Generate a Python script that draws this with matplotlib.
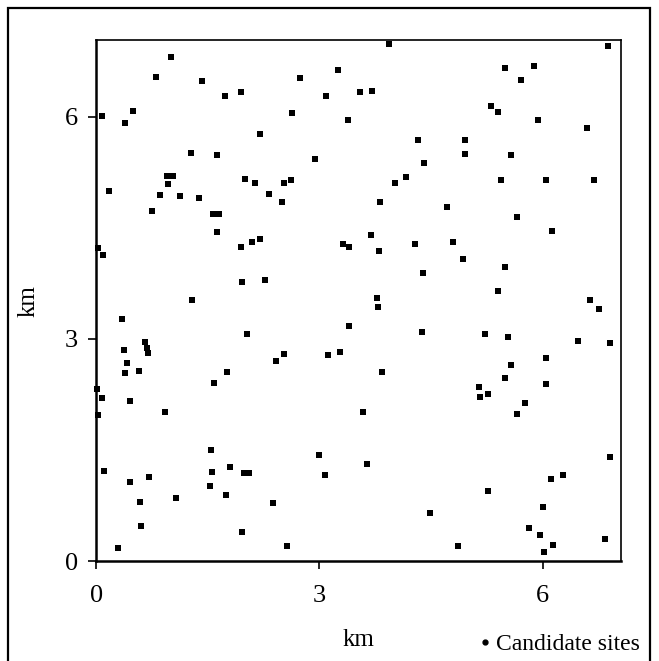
import matplotlib.pyplot as plt
from matplotlib.patches import Rectangle
from matplotlib.lines import Line2D

plt.rcParams['font.family'] = ['Liberation Serif', 'DejaVu Serif']

# candidate site coordinates (km)
site_x = [3.94, 6.88, 1.01, 3.25, 5.50, 5.89, 0.81, 2.74, 5.71, 1.42,
          1.95, 1.73, 3.09, 3.55, 3.71, 5.30, 5.40, 2.63, 0.50, 0.08,
          0.39, 3.38, 5.94, 6.59, 2.20, 4.33, 4.95, 1.28, 1.62, 4.95,
          5.58, 2.94, 4.40, 0.95, 1.03, 0.97, 2.00, 2.14, 2.52, 2.62,
          4.02, 4.17, 5.44, 6.05, 6.69, 0.17, 0.86, 1.12, 1.38, 2.32,
          2.50, 3.82, 0.75, 1.57, 1.65, 4.72, 5.66, 1.63, 6.13, 0.02,
          0.09, 1.95, 2.09, 2.20, 3.32, 3.40, 3.69, 3.80, 4.28, 4.79,
          4.93, 5.50, 4.39, 1.96, 2.27, 5.40, 1.29, 3.78, 3.79, 6.63,
          6.76, 0.34, 3.40, 2.02, 4.38, 5.22, 5.53, 6.47, 6.90, 0.65,
          0.68, 0.70, 0.38, 0.41, 0.39, 0.58, 3.28, 3.12, 2.53, 2.41,
          6.04, 5.57, 1.76, 3.84, 1.58, 5.49, 6.04, 0.01, 5.14, 5.16,
          5.26, 0.08, 0.45, 5.76, 5.66, 0.02, 0.92, 3.58, 1.54, 2.99,
          6.91, 3.64, 0.11, 1.80, 1.55, 1.99, 2.05, 3.07, 0.71, 0.45,
          6.27, 6.11, 1.53, 5.26, 1.74, 1.07, 0.59, 2.37, 6.01, 4.49,
          0.60, 1.96, 5.82, 5.97, 6.84, 0.29, 2.56, 4.86, 6.14, 6.02]
site_y = [6.98, 6.95, 6.80, 6.63, 6.66, 6.68, 6.54, 6.52, 6.50, 6.48,
          6.33, 6.28, 6.28, 6.33, 6.34, 6.14, 6.06, 6.05, 6.07, 6.01,
          5.91, 5.96, 5.96, 5.84, 5.76, 5.69, 5.68, 5.51, 5.48, 5.50,
          5.48, 5.43, 5.38, 5.20, 5.20, 5.09, 5.16, 5.11, 5.10, 5.15,
          5.11, 5.19, 5.15, 5.14, 5.14, 4.99, 4.94, 4.93, 4.90, 4.96,
          4.85, 4.85, 4.73, 4.68, 4.69, 4.78, 4.64, 4.44, 4.45, 4.23,
          4.13, 4.24, 4.31, 4.35, 4.28, 4.24, 4.40, 4.18, 4.28, 4.31,
          4.08, 3.97, 3.89, 3.77, 3.79, 3.64, 3.53, 3.55, 3.43, 3.52,
          3.40, 3.27, 3.18, 3.07, 3.10, 3.06, 3.03, 2.97, 2.95, 2.96,
          2.88, 2.81, 2.85, 2.68, 2.54, 2.57, 2.82, 2.78, 2.80, 2.70,
          2.74, 2.65, 2.55, 2.55, 2.41, 2.47, 2.39, 2.32, 2.35, 2.21,
          2.26, 2.20, 2.16, 2.14, 1.98, 1.97, 2.01, 2.01, 1.50, 1.43,
          1.41, 1.31, 1.22, 1.27, 1.20, 1.19, 1.19, 1.17, 1.13, 1.07,
          1.16, 1.11, 1.01, 0.95, 0.89, 0.85, 0.80, 0.78, 0.73, 0.65,
          0.47, 0.39, 0.45, 0.35, 0.30, 0.18, 0.20, 0.21, 0.22, 0.13]

ticks = [0, 3, 6]

fig = plt.figure(figsize=(6.59, 6.61), dpi=100)

# outer frame around the whole figure
fig.patches.append(Rectangle((8 / 659, -0.05), 642 / 659, 1.05 - 8 / 661,
                             transform=fig.transFigure, fill=False,
                             edgecolor='black', linewidth=1.6))

ax = fig.add_axes([0.146, 0.151, 0.796, 0.788])
ax.scatter(site_x, site_y, marker='s', s=24, color='black', linewidths=0,
           clip_on=False, zorder=3)

ax.set_xlim(0, 7.05)
ax.set_ylim(0, 7.03)
ax.set_xticks(ticks)
ax.set_yticks(ticks)
ax.tick_params(direction='out', length=6, width=1.2, labelsize=19)
ax.tick_params(axis='x', pad=11)
ax.tick_params(axis='y', pad=7)
for side in ['left', 'bottom']:
    ax.spines[side].set_linewidth(1.8)
for side in ['top', 'right']:
    ax.spines[side].set_linewidth(1.2)

ax.set_xlabel('km', fontsize=18, labelpad=16)
ax.set_ylabel('km', fontsize=18, labelpad=18)

handle = Line2D([], [], marker='o', linestyle='none', color='black',
                markersize=3.5)
fig.legend([handle], ['Candidate sites'], loc='lower right',
           bbox_to_anchor=(0.993, -0.012), frameon=False, fontsize=17,
           handletextpad=0.0, handlelength=1.0, borderaxespad=0.2)

fig.savefig('out.png', dpi=100)
